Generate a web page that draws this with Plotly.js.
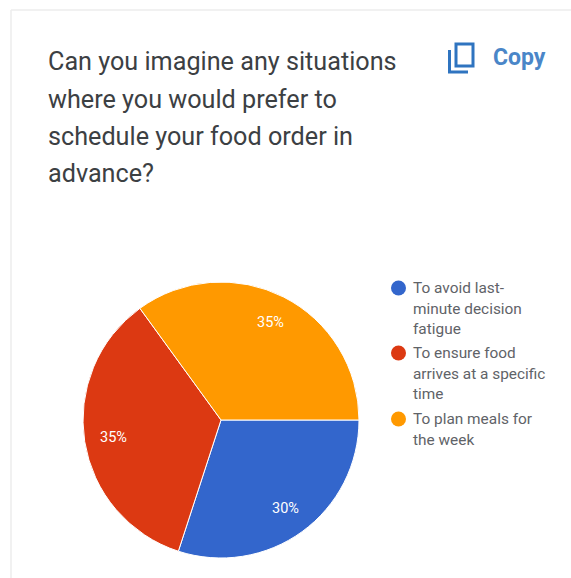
<!DOCTYPE html>
<html>
<head>
<meta charset="utf-8">
<script src="https://cdn.plot.ly/plotly-3.0.1.min.js"></script>
<style>html,body{margin:0;padding:0;background:#fff}#chart{width:571px;height:578px}</style>
</head>
<body>
<div id="chart"></div>
<script>
// Survey answers and their shares
const categories = ["To avoid last-minute decision fatigue", "To ensure food arrives at a specific time", "To plan meals for the week"];
const shares = [30, 35, 35];
const colors = ["#3366cc", "#dc3912", "#ff9900"];
const legendLines = [["To avoid last-", "minute decision", "fatigue"], ["To ensure food", "arrives at a specific", "time"], ["To plan meals for", "the week"]];
const titleLines = ["Can you imagine any situations", "where you would prefer to", "schedule your food order in", "advance?"];

const W = 571, H = 578;
const px = x => x / W;
const py = y => 1 - y / H;

const annotations = [];
const shapes = [];

// Card outline: soft top and left edges
shapes.push({type: "line", xref: "paper", yref: "paper", x0: px(11), x1: px(571), y0: py(10), y1: py(10), line: {color: "#ececec", width: 1.5}});
shapes.push({type: "line", xref: "paper", yref: "paper", x0: px(11), x1: px(11), y0: py(10), y1: py(578), line: {color: "#ececec", width: 1.5}});

// Question heading, one annotation per line
const titleY = [62, 99.5, 136.5, 173.5];
titleLines.forEach((t, i) => annotations.push({
  text: t, xref: "paper", yref: "paper", x: px(45.5), y: py(titleY[i]),
  xanchor: "left", yanchor: "middle", showarrow: false,
  font: {family: "Roboto, sans-serif", size: 25.2, color: "#3c4043"}
}));

// Copy button
annotations.push({
  text: "<b>Copy</b>", xref: "paper", yref: "paper", x: px(491), y: py(58),
  xanchor: "left", yanchor: "middle", showarrow: false,
  font: {family: "Roboto, sans-serif", size: 23, color: "#4a86c8"}
});
const path = pts => pts.map((p, i) => (i ? "L" : "M") + px(p[0]) + "," + py(p[1])).join(" ");
shapes.push({type: "rect", xref: "paper", yref: "paper", x0: px(456), x1: px(473), y0: py(44), y1: py(66), line: {color: "#2f74c0", width: 3}, fillcolor: "rgba(0,0,0,0)"});
shapes.push({type: "path", xref: "paper", yref: "paper", path: path([[449.5, 50], [449.5, 72], [468, 72]]), line: {color: "#2f74c0", width: 3}});

// Legend: round swatches with wrapped labels
const legendStartY = [288, 353, 419];
const legendLineGap = 20.5;
categories.forEach((c, i) => {
  const cy = legendStartY[i];
  shapes.push({type: "circle", xref: "paper", yref: "paper",
    x0: px(391), x1: px(406), y0: py(cy - 7.5), y1: py(cy + 7.5),
    fillcolor: colors[i], line: {width: 0}});
  legendLines[i].forEach((t, j) => annotations.push({
    text: t, xref: "paper", yref: "paper", x: px(410.5), y: py(cy + j * legendLineGap),
    xanchor: "left", yanchor: "middle", showarrow: false,
    font: {family: "Roboto, sans-serif", size: 15.4, color: "#5f6368"}
  }));
});

// Pie geometry in page pixels
const pieLeft = 83, pieRight = 359, pieTop = 282, pieBottom = 558;
const cx = (pieLeft + pieRight) / 2, cy = (pieTop + pieBottom) / 2, R = (pieRight - pieLeft) / 2;
const startAngle = 90;
const labelRadius = 0.79 * R;

// Percent labels sit on each slice's mid-angle, out towards the rim
const total = shares.reduce((a, b) => a + b, 0);
let swept = 0;
shares.forEach(v => {
  const mid = (startAngle + (swept + v / 2) / total * 360) * Math.PI / 180;
  swept += v;
  annotations.push({
    text: Math.round(v / total * 100) + "%", xref: "paper", yref: "paper",
    x: px(cx + labelRadius * Math.sin(mid)), y: py(cy - labelRadius * Math.cos(mid)),
    xanchor: "center", yanchor: "middle", showarrow: false,
    font: {family: "Roboto, sans-serif", size: 14.5, color: "#ffffff"}
  });
});

Plotly.newPlot("chart", [{
  type: "pie",
  labels: categories,
  values: shares,
  sort: false,
  direction: "clockwise",
  rotation: startAngle,
  marker: {colors: colors, line: {color: "#ffffff", width: 1}},
  textinfo: "none",
  domain: {x: [px(pieLeft), px(pieRight)], y: [py(pieBottom), py(pieTop)]},
  hoverinfo: "label+percent"
}], {
  width: W, height: H,
  margin: {l: 0, r: 0, t: 0, b: 0},
  paper_bgcolor: "#ffffff",
  showlegend: false,
  annotations, shapes
}, {displayModeBar: false});
</script>
</body>
</html>
